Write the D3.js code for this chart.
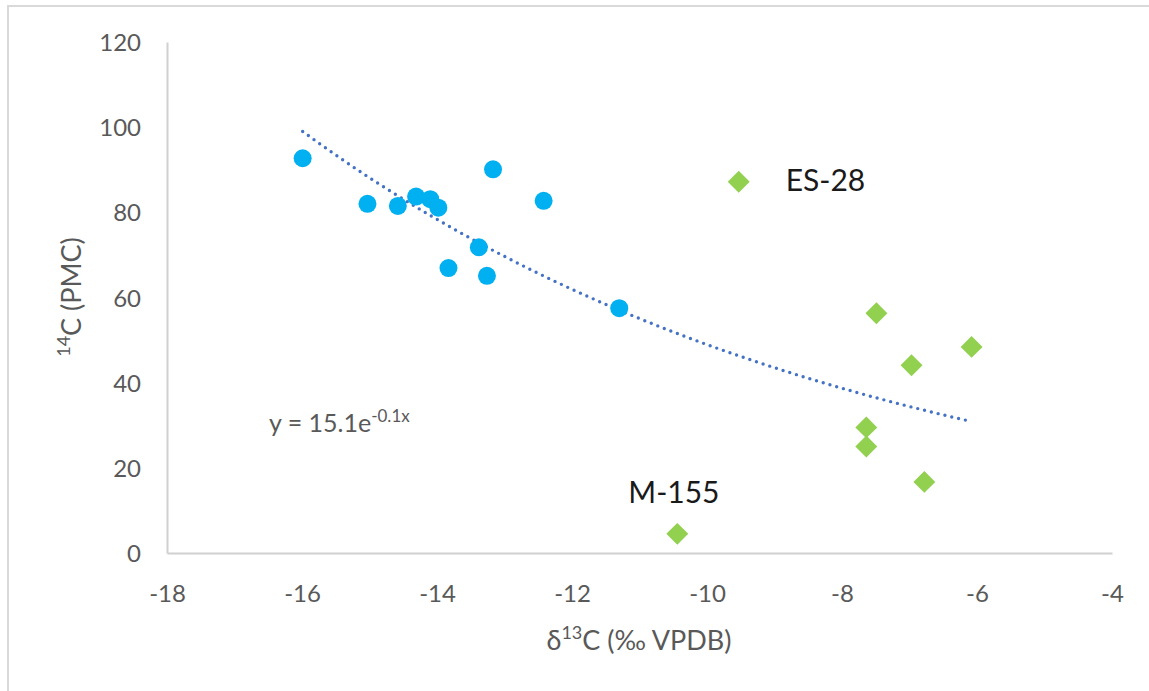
<!DOCTYPE html>
<html>
<head>
<meta charset="utf-8">
<script src="https://cdn.jsdelivr.net/npm/d3@7"></script>
<style>
  html, body { margin: 0; padding: 0; background: #fff; }
  svg { display: block; font-family: Lato, "Open Sans", sans-serif; }
</style>
</head>
<body>
<svg id="chart" width="1149" height="691"></svg>
<script>
// δ13C vs 14C samples: group 1 (circles)
const circleX = [-15.99, -15.03, -14.58, -14.31, -14.10, -13.98, -13.83, -13.38, -13.26, -13.17, -12.42, -11.30];
const circleY = [92.7, 82.0, 81.5, 83.7, 83.1, 81.1, 66.9, 71.8, 65.1, 90.1, 82.7, 57.5];

// group 2 (diamonds)
const diamondX = [-9.53, -7.49, -6.08, -6.97, -7.64, -7.64, -6.78, -10.44];
const diamondY = [87.2, 56.3, 48.4, 44.1, 29.5, 25.0, 16.7, 4.5];

// named samples
const sampleNames = ["ES-28", "M-155"];
const sampleX = [-9.53, -10.44];
const sampleY = [87.2, 4.5];

// exponential trend y = a·e^(b·x)
const trendA = 15.1;
const trendB = -0.1176;

const xTicks = [-18, -16, -14, -12, -10, -8, -6, -4];
const yTicks = [0, 20, 40, 60, 80, 100, 120];

const svg = d3.select("#chart");

const x = d3.scaleLinear().domain([-18, -4]).range([167, 1112]);
const y = d3.scaleLinear().domain([0, 120]).range([553, 42]);

// outer frame (top and left edges visible)
svg.append("path")
  .attr("d", "M8,691 L8,6 L1149,6")
  .attr("fill", "none")
  .attr("stroke", "#d9d9d9")
  .attr("stroke-width", 2);

// axes (plain hyphen-minus on negative ticks)
const fmt = d => String(d);
const xAxis = svg.append("g")
  .attr("transform", `translate(0,${y(0)})`)
  .call(d3.axisBottom(x).tickValues(xTicks).tickSize(0).tickFormat(fmt));
const yAxis = svg.append("g")
  .attr("transform", `translate(${x(-18)},0)`)
  .call(d3.axisLeft(y).tickValues(yTicks).tickSize(0).tickPadding(26).tickFormat(fmt));

[xAxis, yAxis].forEach(g => {
  g.select(".domain").attr("stroke", "#d0d0d0").attr("stroke-width", 2);
  g.selectAll("text")
    .attr("fill", "#595959")
    .style("font-family", "Lato, sans-serif")
    .style("font-size", "24px");
});
xAxis.selectAll("text").attr("y", 40).attr("dy", "0.36em");
yAxis.selectAll("text").attr("dy", "0.36em");

// trend line across the full data range
const allX = circleX.concat(diamondX);
const [x0, x1] = d3.extent(allX);
const trendPts = d3.range(0, 101).map(i => {
  const xv = x0 + (x1 - x0) * i / 100;
  return [xv, trendA * Math.exp(trendB * xv)];
});
svg.append("path")
  .datum(trendPts)
  .attr("d", d3.line().x(d => x(d[0])).y(d => y(d[1])))
  .attr("fill", "none")
  .attr("stroke", "#4472C4")
  .attr("stroke-width", 3.4)
  .attr("stroke-linecap", "round")
  .attr("stroke-dasharray", "0 7");

// circles
svg.append("g").selectAll("circle")
  .data(circleX.map((v, i) => [v, circleY[i]]))
  .join("circle")
  .attr("cx", d => x(d[0]))
  .attr("cy", d => y(d[1]))
  .attr("r", 9)
  .attr("fill", "#00B0F0");

// diamonds
const diamond = d3.symbol().type(d3.symbolSquare).size(240);
svg.append("g").selectAll("path")
  .data(diamondX.map((v, i) => [v, diamondY[i]]))
  .join("path")
  .attr("d", diamond)
  .attr("transform", d => `translate(${x(d[0])},${y(d[1])}) rotate(45)`)
  .attr("fill", "#92D050");

// sample labels
const labelOffsets = [[47, 9], [-49, -31]];
svg.append("g").selectAll("text")
  .data(sampleNames)
  .join("text")
  .attr("x", (d, i) => x(sampleX[i]) + labelOffsets[i][0])
  .attr("y", (d, i) => y(sampleY[i]) + labelOffsets[i][1])
  .attr("fill", "#1a1a1a")
  .style("font-size", "30px")
  .text(d => d);

// trend equation, rounded to one decimal
const eq = svg.append("text")
  .attr("x", 269)
  .attr("y", 432)
  .attr("fill", "#595959")
  .style("font-size", "25px");
eq.append("tspan").text(`y = ${trendA.toFixed(1)}e`);
eq.append("tspan")
  .attr("baseline-shift", "super")
  .style("font-size", "17px")
  .text(`${trendB.toFixed(1)}x`);

// axis titles
const xt = svg.append("text")
  .attr("x", 639)
  .attr("y", 650)
  .attr("text-anchor", "middle")
  .attr("fill", "#595959")
  .style("font-size", "27px");
xt.append("tspan").text("δ");
xt.append("tspan").attr("baseline-shift", "super").style("font-size", "18px").text("13");
xt.append("tspan").text("C (‰ VPDB)");

const yt = svg.append("text")
  .attr("transform", "translate(81,297) rotate(-90)")
  .attr("text-anchor", "middle")
  .attr("fill", "#595959")
  .style("font-size", "27px");
yt.append("tspan").attr("baseline-shift", "super").style("font-size", "18px").text("14");
yt.append("tspan").text("C (PMC)");
</script>
</body>
</html>
